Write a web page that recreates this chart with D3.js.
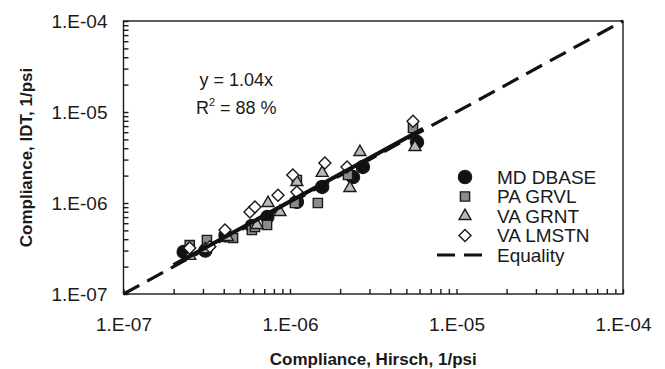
<!DOCTYPE html>
<meta charset="utf-8">
<head>
    <style>
        body {margin: 0; background: #fff;}
        text {font-family: "Liberation Sans", Arial, sans-serif; fill: #1a1a1a;}
        .axis path, .axis line {stroke: #1a1a1a; stroke-width: 1.4;}
        .axis text {font-size: 19px;}
        .title {font-size: 17px; font-weight: bold;}
    </style>
    <script src="https://d3js.org/d3.v7.min.js"></script>
</head>
<body>
<script>

    // axis decades and their labels
    var majors = [1e-7, 1e-6, 1e-5, 1e-4],
        tickLabels = ["1.E-07", "1.E-06", "1.E-05", "1.E-04"];

    // [Hirsch, IDT] compliance, 1/psi
    var mdDbase = [[2.3e-7, 2.9e-7], [3.1e-7, 3.0e-7], [4.1e-7, 4.4e-7], [5.9e-7, 5.6e-7],
                   [7.3e-7, 7.0e-7], [1.1e-6, 1.03e-6], [1.56e-6, 1.5e-6], [2.39e-6, 1.93e-6],
                   [2.74e-6, 2.49e-6], [5.79e-6, 4.68e-6]];
    var paGrvl = [[2.5e-7, 3.45e-7], [3.17e-7, 3.92e-7], [4.55e-7, 4.13e-7], [5.9e-7, 5.05e-7],
                  [6.16e-7, 5.45e-7], [7.28e-7, 5.73e-7], [1.07e-6, 1.0e-6], [1.1e-6, 1.79e-6],
                  [1.47e-6, 1.0e-6], [2.23e-6, 2.03e-6], [5.48e-6, 6.67e-6]];
    var vaGrnt = [[2.5e-7, 2.62e-7], [3.09e-7, 3.1e-7], [4.2e-7, 4.23e-7], [6.34e-7, 5.73e-7],
                  [7.38e-7, 1.0e-6], [8.7e-7, 7.96e-7], [1.1e-6, 1.7e-6], [1.56e-6, 2.14e-6],
                  [2.29e-6, 1.46e-6], [2.63e-6, 3.63e-6], [5.63e-6, 4.12e-6]];
    var vaLmstn = [[2.5e-7, 3.2e-7], [3.3e-7, 3.3e-7], [4.07e-7, 5.05e-7], [5.75e-7, 7.96e-7],
                   [6.16e-7, 9.04e-7], [8.47e-7, 1.22e-6], [1.04e-6, 2.03e-6], [1.1e-6, 1.32e-6],
                   [1.62e-6, 2.75e-6], [2.2e-6, 2.49e-6], [5.48e-6, 7.9e-6]];

    var slope = 1.04,
        fitRange = [2.0e-7, 6.3e-6];

    var margin = {top: 21, right: 42, bottom: 75, left: 123.5},
        width = 665 - margin.left - margin.right,
        height = 369 - margin.top - margin.bottom;

    var x = d3.scaleLog().domain([1e-7, 1e-4]).range([0, width]);
    var y = d3.scaleLog().domain([1e-7, 1e-4]).range([height, 0]);

    var svg = d3.select("body").append("svg")
        .attr("width", 665)
        .attr("height", 369)
      .append("g")
        .attr("transform", "translate(" + margin.left + "," + margin.top + ")");

    // all ticks 1..9 per decade, labels only on decades
    var allTicks = [];
    majors.slice(0, 3).forEach(function(m) {
        d3.range(1, 10).forEach(function(k) { allTicks.push(m * k); });
    });
    allTicks.push(1e-4);

    function fmt(d) {
        var i = majors.findIndex(function(m) { return Math.abs(d / m - 1) < 1e-6; });
        return i < 0 ? "" : tickLabels[i];
    }

    svg.append("rect")
        .attr("width", width).attr("height", height)
        .attr("fill", "none").attr("stroke", "#1a1a1a").attr("stroke-width", 1.4);

    svg.append("g").attr("class", "axis")
        .call(d3.axisLeft(y).tickValues(allTicks).tickFormat(fmt).tickSize(-5).tickPadding(16))
        .call(function(g) { g.select(".domain").remove(); });

    svg.append("g").attr("class", "axis")
        .attr("transform", "translate(0," + height + ")")
        .call(d3.axisBottom(x).tickValues(allTicks).tickFormat(fmt).tickSize(-5).tickPadding(24))
        .call(function(g) { g.select(".domain").remove(); });

    // equality line
    svg.append("line")
        .attr("x1", x(1e-7)).attr("y1", y(1e-7))
        .attr("x2", x(1e-4)).attr("y2", y(1e-4))
        .attr("stroke", "#111").attr("stroke-width", 3.2)
        .attr("stroke-dasharray", "18,9");

    var shapes = [
        {name: "MD DBASE", data: mdDbase, sym: d3.symbolCircle, size: 135, fill: "#111", rot: 0},
        {name: "PA GRVL", data: paGrvl, sym: d3.symbolSquare, size: 85, fill: "#8a8a8a", rot: 0},
        {name: "VA GRNT", data: vaGrnt, sym: d3.symbolTriangle, size: 62, fill: "#b8b8b8", rot: 0},
        {name: "VA LMSTN", data: vaLmstn, sym: d3.symbolSquare, size: 72, fill: "#fff", rot: 45}
    ];

    shapes.forEach(function(s) {
        svg.append("g").selectAll("path")
            .data(s.data)
          .enter().append("path")
            .attr("d", d3.symbol().type(s.sym).size(s.size))
            .attr("transform", function(d) {
                return "translate(" + x(d[0]) + "," + y(d[1]) + ") rotate(" + s.rot + ")";
            })
            .attr("fill", s.fill)
            .attr("stroke", "#1a1a1a")
            .attr("stroke-width", 1.4);
    });

    // regression y = 1.04x
    svg.append("line")
        .attr("x1", x(fitRange[0])).attr("y1", y(fitRange[0] * slope))
        .attr("x2", x(fitRange[1])).attr("y2", y(fitRange[1] * slope))
        .attr("stroke", "#111").attr("stroke-width", 4);

    // annotation
    svg.append("text")
        .attr("x", x(4.5e-7) + 4).attr("y", 65)
        .attr("text-anchor", "middle").style("font-size", "18px")
        .text("y = 1.04x");
    var r2 = svg.append("text")
        .attr("x", x(4.5e-7) + 4).attr("y", 93)
        .attr("text-anchor", "middle").style("font-size", "18px");
    r2.append("tspan").text("R");
    r2.append("tspan").attr("dy", -8).style("font-size", "11px").text("2");
    r2.append("tspan").attr("dy", 8).text(" = 88 %");

    // legend
    var legend = svg.append("g").attr("transform", "translate(" + (465 - margin.left) + "," + (177 - margin.top) + ")");
    shapes.forEach(function(s, i) {
        var row = legend.append("g").attr("transform", "translate(0," + i * 19.5 + ")");
        row.append("path")
            .attr("d", d3.symbol().type(s.sym).size(s.size))
            .attr("transform", "rotate(" + s.rot + ")")
            .attr("fill", s.fill).attr("stroke", "#1a1a1a").attr("stroke-width", 1.4);
        row.append("text").attr("x", 32).attr("dy", "0.35em").style("font-size", "19px").text(s.name);
    });
    var eq = legend.append("g").attr("transform", "translate(0," + 4 * 19.5 + ")");
    eq.append("line").attr("x1", -28).attr("x2", 18)
        .attr("stroke", "#111").attr("stroke-width", 3.2).attr("stroke-dasharray", "18,9");
    eq.append("text").attr("x", 32).attr("dy", "0.35em").style("font-size", "19px").text("Equality");

    // axis titles
    svg.append("text").attr("class", "title")
        .attr("x", width / 2).attr("y", height + 71)
        .attr("text-anchor", "middle")
        .text("Compliance, Hirsch, 1/psi");

    svg.append("text").attr("class", "title")
        .attr("transform", "translate(" + (32 - margin.left) + "," + height / 2 + ") rotate(-90)")
        .attr("text-anchor", "middle")
        .text("Compliance, IDT, 1/psi");

</script>
</body>
